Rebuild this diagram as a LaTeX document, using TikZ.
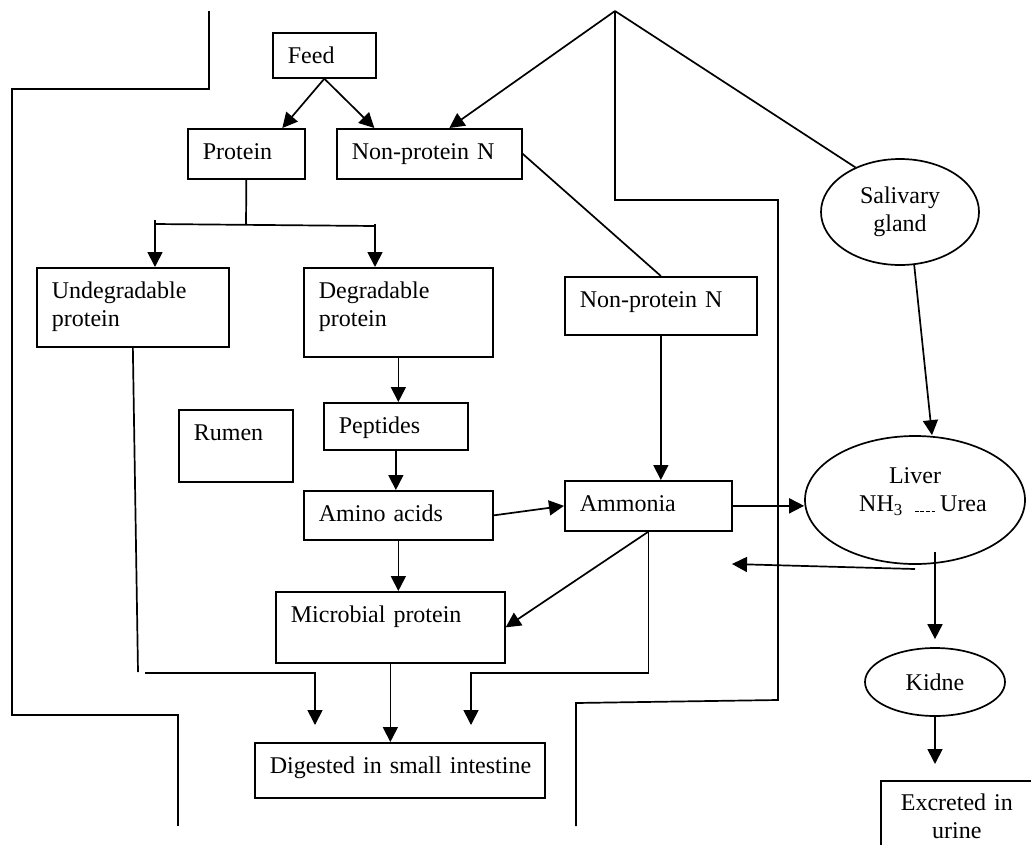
\documentclass[tikz,border=0pt]{standalone}
\usepackage{fontspec}
\setmainfont{Liberation Serif}
\usetikzlibrary{arrows.meta,shapes.geometric}

\newcommand\urdash{\rule{3.8pt}{0.9pt}\hspace{1.8pt}}

\tikzset{
  box/.style={draw, anchor=north west, inner xsep=15pt, inner ysep=0pt, text height=31pt, align=left},
  organ/.style={draw, ellipse, inner sep=0pt, align=center},
  arr/.style={-{Triangle[width=15pt,length=15pt]}}
}

\begin{document}
\begin{tikzpicture}[x=1pt, y=-1pt, line width=1.7pt, font=\fontsize{24}{28}\selectfont]
  \useasboundingbox (0,0) rectangle (1031,844);
  \clip (0,0) rectangle (1031,844);
  % walls
  \draw (209,11) -- (209,89) -- (12,89) -- (12,715) -- (178,715) -- (178,826);
  \coordinate (apex) at (615,11);
  \draw (apex) -- (615,200) -- (778,200) -- (778,700) -- (576,703) -- (576,826);

  % boxes
  \node[box, text width=73pt, text depth=14pt] (feed) at (272,32) {Feed};
  \node[box, text width=87pt, text depth=19pt] (prot) at (187,128) {Protein};
  \node[box, text width=155pt, text depth=19pt] (npn1) at (336,128) {Non-protein N};
  \node[box, text width=162pt, text depth=48pt] (undeg) at (36,267) {Undegradable\\protein};
  \node[box, text width=159pt, text depth=58pt] (deg) at (303,267) {Degradable\\protein};
  \node[box, text width=162pt, text depth=27pt] (npn2) at (564,276) {Non-protein N};
  \node[box, text width=84pt, text depth=41pt] (rumen) at (178,409) {Rumen};
  \node[box, text width=114pt, text depth=16pt] (pept) at (323,402) {Peptides};
  \node[box, text width=159pt, text depth=18pt] (amino) at (303,490) {Amino acids};
  \node[box, text width=137pt, text depth=19pt] (ammonia) at (564,480) {Ammonia};
  \node[box, text width=199pt, text depth=40pt] (micro) at (275,591) {Microbial protein};
  \node[box, text width=260pt, text depth=24pt] (digest) at (254,742) {\mbox{Digested in small intestine}};
  \node[box, text width=150pt, text depth=60pt, align=center, text height=30pt] (excr) at (880,780)
    {\hspace*{-28pt}Excreted in\\\hspace*{-28pt}urine};

  % organs
  \node[organ, minimum width=158pt, minimum height=106pt] (saliv) at (900,212) {Salivary\\gland};
  \node[organ, minimum width=220pt, minimum height=128pt, text depth=21pt] (liver) at (915,500)
    {Liver\\\hspace*{16pt}NH\textsubscript{3}\hspace{12pt}\urdash\urdash\urdash\urdash\hspace{3pt}Urea};
  \node[organ, minimum width=140pt, minimum height=68pt] (kid) at (935,682) {Kidne};

  % connectors
  \draw[arr] (feed.south) -- ([xshift=36pt]prot.north);
  \draw[arr] (feed.south) -- ([xshift=-55pt]npn1.north);
  \draw[arr] (apex) -- ([xshift=20pt]npn1.north);
  \draw (apex) -- (saliv.135);

  \coordinate (split) at (246,225);
  \coordinate (splitL) at (155,224);
  \coordinate (splitR) at (375,226);
  \draw (prot.south) -- (split);
  \draw (splitL) -- (splitR);
  \draw[arr] ([yshift=4pt]splitL) -- (splitL |- undeg.north);
  \draw[arr] ([yshift=2pt]splitR) -- (splitR |- deg.north);

  \draw (npn1.east) -- (npn2.north);
  \draw[arr] (npn2.south) -- (npn2.south |- ammonia.north);
  \draw[arr] (deg.south) -- (deg.south |- pept.north);
  \draw[arr] (pept.south) -- (pept.south |- amino.north);
  \draw[arr] (amino.south) -- (amino.south |- micro.north);
  \draw[arr] (amino.east) -- (ammonia.west);
  \draw[arr] (ammonia.east) -- (ammonia.east -| liver.west);
  \draw[arr] (ammonia.south) -- (micro.east);
  \draw[arr] (micro.south) -- (micro.south |- digest.north);

  \coordinate (undB) at (138,672);
  \coordinate (undL) at (145,673);
  \coordinate (undR) at (315,673);
  \draw (undeg.south) -- (undB);
  \draw[arr, shorten >=17pt] (undL) -- (undR) -- (undR |- digest.north);

  \coordinate (ammL) at (471,673);
  \draw[arr, shorten >=17pt] (ammonia.south) |- (ammL) -- (ammL |- digest.north);

  \draw[arr] (saliv.-75) -- ([xshift=17pt]liver.north);
  \coordinate (backS) at (915,569);
  \coordinate (backE) at (732,564);
  \draw[arr] (backS) -- (backE);
  \coordinate (livtick) at (935,552);
  \draw[arr, shorten >=8pt] (livtick) -- (kid.north);
  \draw[arr, shorten >=16pt] (kid.south) -- (kid.south |- excr.north);
\end{tikzpicture}
\end{document}
